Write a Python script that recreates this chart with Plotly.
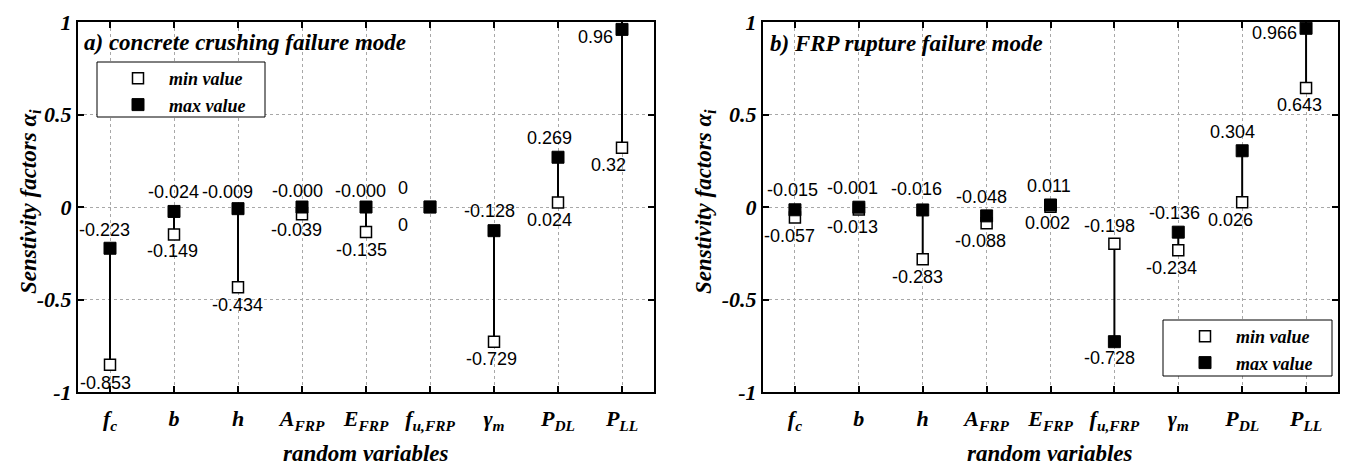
import plotly.graph_objects as go

# ---------------- data ----------------
categories = ["f<sub>c</sub>", "b", "h", "A<sub>FRP</sub>", "E<sub>FRP</sub>",
              "f<sub>u,FRP</sub>", "γ<sub>m</sub>", "P<sub>DL</sub>", "P<sub>LL</sub>"]
cat_pos = [1, 2, 3, 4, 5, 6, 7, 8, 9]

a_min = [-0.853, -0.149, -0.434, -0.039, -0.135, 0.0, -0.729, 0.024, 0.32]
a_max = [-0.223, -0.024, -0.009, -0.0001, -0.0001, 0.0, -0.128, 0.269, 0.96]
a_min_lbl = ["-0.853", "-0.149", "-0.434", "-0.039", "-0.135", "0", "-0.729", "0.024", "0.32"]
a_max_lbl = ["-0.223", "-0.024", "-0.009", "-0.000", "-0.000", "0", "-0.128", "0.269", "0.96"]

b_min = [-0.057, -0.013, -0.283, -0.088, 0.002, -0.198, -0.234, 0.026, 0.643]
b_max = [-0.015, -0.001, -0.016, -0.048, 0.011, -0.728, -0.136, 0.304, 0.966]
b_min_lbl = ["-0.057", "-0.013", "-0.283", "-0.088", "0.002", "-0.198", "-0.234", "0.026", "0.643"]
b_max_lbl = ["-0.015", "-0.001", "-0.016", "-0.048", "0.011", "-0.728", "-0.136", "0.304", "0.966"]

y_tickvals = [-1, -0.5, 0, 0.5, 1]
y_ticktext = ["-1", "-0.5", "0", "0.5", "1"]

# label pixel offsets (dx, dy downwards) -- styling only
a_max_off = [(-6, -18), (-1, -19), (-11, -17), (-5, -16), (-6, -16), (-27, -19), (-5, -20), (-9, -19), (-27, 8)]
a_min_off = [(-5, 18), (-2, 16), (-1, 18), (-6, 16), (-5, 18), (-27, 18), (-3, 17), (-9, 17), (-14, 17)]
b_max_off = [(-2, -20), (-6, -19), (-6, -21), (-5, -19), (-2, -19), (-5, 16), (-4, -19), (-10, -19), (-32, 5)]
b_min_off = [(-5, 18), (-6, 18), (-5, 18), (-6, 18), (-3, 16), (-5, -18), (-7, 18), (-12, 18), (-7, 17)]

W, H = 1346, 465
SERIF = "Liberation Serif"
SANS = "Liberation Sans"

def px(x):
    return x / W

def py(y):
    return (H - y) / H

fig = go.Figure()

panels = [
    ("x", "y", a_min, a_max, a_min_lbl, a_max_lbl, a_min_off, a_max_off, "legend"),
    ("x2", "y2", b_min, b_max, b_min_lbl, b_max_lbl, b_min_off, b_max_off, "legend2"),
]

annotations = []
for xa, ya, vmin, vmax, lmin, lmax, omin, omax, leg in panels:
    lx, ly = [], []
    for c, lo, hi in zip(cat_pos, vmin, vmax):
        lx += [c, c, None]
        ly += [lo, hi, None]
    fig.add_trace(go.Scatter(x=lx, y=ly, mode="lines", xaxis=xa, yaxis=ya,
                             line=dict(color="black", width=2), showlegend=False,
                             hoverinfo="skip"))
    fig.add_trace(go.Scatter(x=cat_pos, y=vmin, mode="markers", xaxis=xa, yaxis=ya,
                             name="min value", legend=leg,
                             marker=dict(symbol="square", size=11, color="white",
                                         line=dict(color="black", width=1.5))))
    fig.add_trace(go.Scatter(x=cat_pos, y=vmax, mode="markers", xaxis=xa, yaxis=ya,
                             name="max value", legend=leg,
                             marker=dict(symbol="square", size=12, color="black",
                                         line=dict(color="black", width=1))))
    for c, v, t, (dx, dy) in list(zip(cat_pos, vmin, lmin, omin)) + list(zip(cat_pos, vmax, lmax, omax)):
        annotations.append(dict(x=c, y=v, xref=xa, yref=ya, text=t, showarrow=False,
                                xshift=dx, yshift=-dy,
                                font=dict(family=SANS, size=18, color="black")))

axis_common = dict(showline=True, linecolor="black", linewidth=2, mirror="ticks",
                   ticks="inside", ticklen=6, tickwidth=1.5, tickcolor="black",
                   showgrid=True, gridcolor="#a8a8a8", gridwidth=1, griddash="dot",
                   zeroline=False, automargin=False,
                   tickfont=dict(family=SERIF, size=22, color="black", weight="bold", style="italic"))

fig.update_layout(
    xaxis=dict(domain=[px(78), px(654)], range=[0.5, 9.5], tickvals=cat_pos, ticktext=categories,
               anchor="y", ticklabelstandoff=6, **axis_common),
    yaxis=dict(domain=[py(392), py(22)], range=[-1, 1], tickvals=y_tickvals, ticktext=y_ticktext,
               anchor="x", **axis_common),
    xaxis2=dict(domain=[px(763), px(1338)], range=[0.5, 9.5], tickvals=cat_pos, ticktext=categories,
                anchor="y2", ticklabelstandoff=6, **axis_common),
    yaxis2=dict(domain=[py(392), py(22)], range=[-1, 1], tickvals=y_tickvals, ticktext=y_ticktext,
                anchor="x2", **axis_common),
)

legend_common = dict(bgcolor="rgba(0,0,0,0)", borderwidth=0, itemwidth=52,
                     xanchor="left", yanchor="top", tracegroupgap=0,
                     font=dict(family=SERIF, size=18, color="black", weight="bold", style="italic"))
fig.update_layout(
    legend=dict(x=px(107), y=py(60), **legend_common),
    legend2=dict(x=px(1174), y=py(318), **legend_common),
)

shapes = [
    dict(type="rect", xref="paper", yref="paper", x0=px(97), x1=px(265), y0=py(117), y1=py(62),
         fillcolor="white", line=dict(color="black", width=1), layer="above"),
    dict(type="rect", xref="paper", yref="paper", x0=px(1163), x1=px(1332), y0=py(376), y1=py(320),
         fillcolor="white", line=dict(color="black", width=1), layer="above"),
]

title_font = dict(family=SERIF, size=23, color="black", weight="bold", style="italic")
axis_title_font = dict(family=SERIF, size=23, color="black", weight="bold", style="italic")
annotations += [
    dict(x=px(82), y=py(42), xref="paper", yref="paper", xanchor="left", yanchor="middle",
         text="a) concrete crushing failure mode", showarrow=False, font=title_font),
    dict(x=px(768), y=py(43), xref="paper", yref="paper", xanchor="left", yanchor="middle",
         text="b) FRP rupture failure mode", showarrow=False, font=title_font),
    dict(x=px(30), y=py(202), xref="paper", yref="paper", xanchor="center", yanchor="middle",
         text="Senstivity factors α<sub>i</sub>", textangle=-90, showarrow=False, font=axis_title_font),
    dict(x=px(705), y=py(202), xref="paper", yref="paper", xanchor="center", yanchor="middle",
         text="Senstivity factors α<sub>i</sub>", textangle=-90, showarrow=False, font=axis_title_font),
    dict(x=px(366), y=py(453), xref="paper", yref="paper", xanchor="center", yanchor="middle",
         text="random variables", showarrow=False, font=axis_title_font),
    dict(x=px(1050), y=py(453), xref="paper", yref="paper", xanchor="center", yanchor="middle",
         text="random variables", showarrow=False, font=axis_title_font),
]

fig.update_layout(width=W, height=H, margin=dict(l=0, r=0, t=0, b=0, autoexpand=False),
                  paper_bgcolor="white", plot_bgcolor="white",
                  annotations=annotations, shapes=shapes, hovermode=False)

fig.write_html("out.html", config={"displayModeBar": False},
               post_script=["document.body.style.margin='0';"])
